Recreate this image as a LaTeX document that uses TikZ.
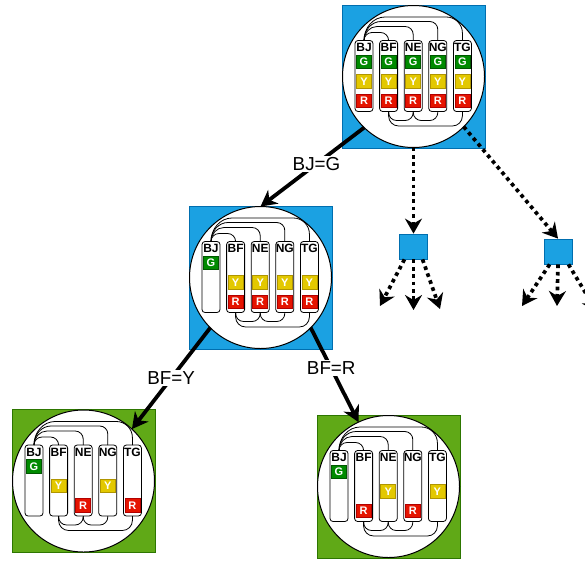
\documentclass[tikz,border=0pt]{standalone}
\usepackage{fontspec}
\setmainfont{Liberation Sans}
\usetikzlibrary{arrows.meta}

\definecolor{bluefill}{HTML}{1BA1E2}
\definecolor{blueline}{HTML}{006EAF}
\definecolor{greenfill}{HTML}{60A917}
\definecolor{greenline}{HTML}{2D7600}
\definecolor{Gfill}{HTML}{008A00}
\definecolor{Gline}{HTML}{005700}
\definecolor{Yfill}{HTML}{E3C800}
\definecolor{Yline}{HTML}{B09500}
\definecolor{Rfill}{HTML}{E51400}
\definecolor{Rline}{HTML}{B20000}

% vertical offsets of the colour chips inside a column
\def\chipyG{-14.5}
\def\chipyY{5}
\def\chipyR{24.5}

\tikzset{
  backdrop/.style={rectangle, minimum size=143pt, inner sep=0pt, outer sep=0pt,
    fill=#1fill, draw=#1line, line width=0.6pt},
  disc/.style={circle, minimum size=142pt, inner sep=0pt, outer sep=0pt,
    fill=white, draw=black, line width=1pt},
  column/.style={rectangle, rounded corners=3pt, minimum width=18pt, minimum height=71pt,
    inner sep=0pt, outer sep=0pt, fill=white, draw=black, line width=0.8pt},
  tag/.style={inner sep=0pt, font=\bfseries\fontsize{12}{12}\selectfont},
  chip/.style={rectangle, minimum width=15pt, minimum height=13.5pt, inner sep=0pt,
    fill=#1fill, draw=#1line, line width=0.6pt, text=white,
    font=\bfseries\fontsize{11}{11}\selectfont},
  link/.style={draw=black, line width=0.8pt},
  flow/.style={line width=3.8pt, -{Stealth[length=16pt,width=17pt,inset=5pt]}},
  guess/.style={line width=3.7pt, dash pattern=on 3.7pt off 3.7pt,
    -{Stealth[length=15pt,width=17pt,inset=5pt]}},
  minisq/.style={rectangle, minimum width=28pt, minimum height=25pt, inner sep=0pt,
    fill=bluefill, draw=blueline, line width=0.8pt},
  edgelabel/.style={fill=white, inner sep=1.5pt, font=\fontsize{18.8}{19}\selectfont},
}

% arc over the columns: from BJ to #2, rising #3, corner radii #4 (BJ side) and #5
\newcommand{\toparc}[5]{%
  \draw[link] (#1-BJ.north)
     .. controls ([yshift={0.552*#3pt}]#1-BJ.north) and ([xshift={0.448*#4pt},yshift=#3pt]#1-BJ.north)
     .. ([xshift=#4pt,yshift=#3pt]#1-BJ.north)
     -- ([xshift=-#5pt,yshift=#3pt]#1-#2.north)
     .. controls ([xshift={-0.448*#5pt},yshift=#3pt]#1-#2.north) and ([yshift={#3pt-0.448*#5pt}]#1-#2.north)
     .. ([yshift={#3pt-#5pt}]#1-#2.north) -- (#1-#2.north);}

% arc under the columns: from #2 to #3, dropping #4, corner radius #5
\newcommand{\botarc}[5]{%
  \draw[link] (#1-#2.south) -- ([yshift={-#4pt+#5pt}]#1-#2.south)
     .. controls ([yshift={-#4pt+0.448*#5pt}]#1-#2.south) and ([xshift={0.448*#5pt},yshift=-#4pt]#1-#2.south)
     .. ([xshift=#5pt,yshift=-#4pt]#1-#2.south)
     -- ([xshift=-#5pt,yshift=-#4pt]#1-#3.south)
     .. controls ([xshift={-0.448*#5pt},yshift=-#4pt]#1-#3.south) and ([yshift={-#4pt+0.448*#5pt}]#1-#3.south)
     .. ([yshift={-#4pt+#5pt}]#1-#3.south) -- (#1-#3.south);}

% one search state: backdrop square, disc, five country columns with their remaining colours
\newcommand{\statenode}[4]{%
  \node[backdrop=#3] (#1) at (#2) {};
  \node[disc] (#1c) at (#2) {};
  \foreach \lab/\cols [count=\i] in {#4}{%
    \pgfmathsetmacro{\dx}{-49.5+(\i-1)*24.6}%
    \node[column] (#1-\lab) at ([shift={(\dx,-0.5)}]#1c.center) {};
    \node[tag] (#1-\lab-tag) at ([shift={(\dx,-29)}]#1c.center) {\lab};
    \foreach \c in \cols {%
      \node[chip=\c] (#1-\lab-\c) at ([shift={(\dx,\csname chipy\c\endcsname)}]#1c.center) {\c};
    }%
  }%
  \toparc{#1}{BF}{8}{8}{8}%
  \toparc{#1}{NE}{14}{13}{8}%
  \toparc{#1}{NG}{19}{17}{8}%
  \toparc{#1}{TG}{23.5}{21}{16}%
  \botarc{#1}{BF}{NE}{9}{8}%
  \botarc{#1}{NE}{NG}{9}{8}%
  \botarc{#1}{BF}{TG}{14.5}{10}%
}

\begin{document}
\begin{tikzpicture}[x=1pt,y=-1pt]
\path[use as bounding box] (0,0) rectangle (585,560);
\clip (0,0) rectangle (585,560);

\statenode{s0}{413.5,76.5}{blue}{BJ/{G,Y,R},BF/{G,Y,R},NE/{G,Y,R},NG/{G,Y,R},TG/{G,Y,R}}
\statenode{s1}{260.5,277.5}{blue}{BJ/{G},BF/{Y,R},NE/{Y,R},NG/{Y,R},TG/{Y,R}}
\statenode{s2}{83.5,481}{green}{BJ/{G},BF/{Y},NE/{R},NG/{Y},TG/{R}}
\statenode{s3}{388.5,486.5}{green}{BJ/{G},BF/{R},NE/{Y},NG/{R},TG/{Y}}

\node[minisq] (q1) at (413.5,246.5) {};
\node[minisq] (q2) at (558,251.5) {};

% assignments that were followed
\draw[flow] (s0c.226) -- node[edgelabel,pos=0.46] {BJ=G} (s1c.90);
\draw[flow] (s1c.225) -- node[edgelabel,pos=0.5] {BF=Y} (s2c.47);
\draw[flow] (s1c.-45) -- node[edgelabel,pos=0.43] {BF=R} (s3c.115);

% branches left unexplored
\draw[guess] (s0c.270) -- (q1.north);
\draw[guess] (s0c.-45) -- (q2.north);

\coordinate (q1a) at (380,306);
\coordinate (q1b) at (413.5,310);
\coordinate (q1c) at (440,309);
\coordinate (q2a) at (522,306);
\coordinate (q2b) at (557,306);
\coordinate (q2c) at (597,312);

\draw[guess] (q1.235) -- (q1a);
\draw[guess] (q1.south) -- (q1b);
\draw[guess] (q1.-55) -- (q1c);
\draw[guess] (q2.237) -- (q2a);
\draw[guess] (q2.south) -- (q2b);
\draw[guess] (q2.-51) -- (q2c);
\end{tikzpicture}
\end{document}
